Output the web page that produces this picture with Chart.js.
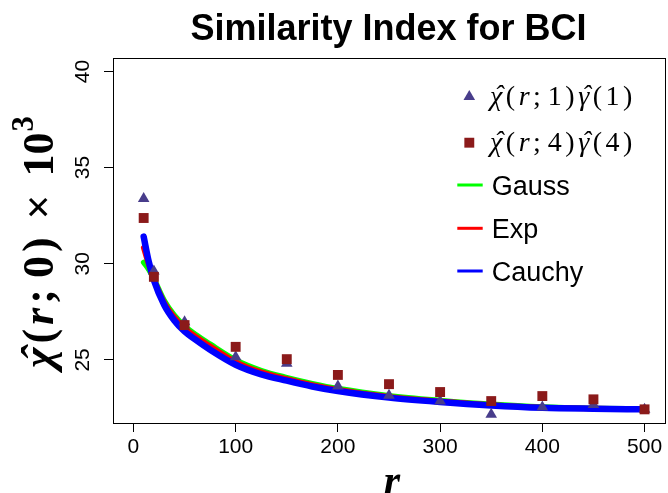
<!DOCTYPE html>
<html><head><meta charset="utf-8">
<script src="https://cdn.jsdelivr.net/npm/chart.js@4/dist/chart.umd.min.js"></script>
<style>
html,body{margin:0;padding:0;overflow:hidden;background:#fff;width:668px;height:493px}
#wrap{width:668px;height:493px;overflow:hidden;position:relative}
canvas{display:block}
</style></head>
<body><div id="wrap"><canvas id="c" width="672" height="493"></canvas></div>
<script>
// ---- data ----
const chartTitle = 'Similarity Index for BCI';
const pointR = [10, 20, 50, 100, 150, 200, 250, 300, 350, 400, 450, 500];
const chiGamma1 = [33.39, 29.62, 26.98, 25.16, 24.82, 23.63, 23.15, 22.86, 22.17, 22.54, 22.68, 22.43];
const chiGamma4 = [32.38, 29.32, 26.81, 25.68, 25.04, 24.22, 23.74, 23.33, 22.86, 23.12, 22.95, 22.43];
const curveR = [10, 15, 20, 30, 40, 50, 60, 75, 100, 125, 150, 175, 200, 250, 300, 350, 400, 450, 500];
const gaussFit  = [30.07, 29.70, 29.22, 28.10, 27.32, 26.76, 26.35, 25.82, 25.00, 24.45, 24.08, 23.77, 23.51, 23.14, 22.89, 22.69, 22.55, 22.48, 22.45];
const expFit    = [30.83, 29.95, 29.20, 28.00, 27.22, 26.66, 26.25, 25.72, 24.90, 24.36, 24.01, 23.70, 23.45, 23.09, 22.85, 22.66, 22.53, 22.47, 22.44];
const cauchyFit = [31.41, 30.10, 29.15, 27.87, 27.05, 26.48, 26.08, 25.53, 24.75, 24.25, 23.92, 23.62, 23.38, 23.04, 22.81, 22.63, 22.51, 22.46, 22.43];
const xTicks = [0, 100, 200, 300, 400, 500];
const yTicks = [25, 30, 35, 40];
const lineLabels = ['Gauss', 'Exp', 'Cauchy'];

const SERIF = 'Liberation Serif';
const SANS = 'Liberation Sans';
const COL_TRI = '#483D8B', COL_SQ = '#8B1A1A';
const COL_G = '#00FF00', COL_E = '#FF0000', COL_C = '#0000FF';

const pts = (xs, ys) => xs.map((x, i) => ({x, y: ys[i]}));

function drawSegs(ctx, segs, size, gap) {
  let x = 0;
  ctx.textAlign = 'left';
  for (const s of segs) {
    const sz = size * (s.scale || 1);
    ctx.font = (s.italic ? 'italic ' : '') + (s.bold ? 'bold ' : '') + sz + 'px "' + SERIF + '"';
    const y = -(s.rise || 0) * size;
    ctx.fillText(s.t, x, y);
    const w = ctx.measureText(s.t).width;
    if (s.hat) {
      ctx.textAlign = 'center';
      ctx.fillText('\u02C6', x + w / 2 + (s.italic ? 0.1 * sz : 0), y - 0.03 * sz);
      ctx.textAlign = 'left';
    }
    x += w + (s.gap !== undefined ? s.gap : gap);
  }
  return x;
}
function mathLabel(n) {
  return [
    {t: 'χ', italic: true, hat: true}, {t: '('}, {t: 'r', italic: true}, {t: ';', gap: 7},
    {t: String(n)}, {t: ')'}, {t: 'γ', italic: true, hat: true}, {t: '('}, {t: String(n)}, {t: ')'}
  ];
}

const decor = {
  id: 'decor',
  afterDraw(chart) {
    const ctx = chart.ctx, a = chart.chartArea;
    ctx.save();
    // box
    ctx.strokeStyle = '#000'; ctx.lineWidth = 1;
    ctx.strokeRect(Math.round(a.left) + 0.5, Math.round(a.top) + 0.5, Math.round(a.right - a.left), Math.round(a.bottom - a.top));
    // title
    ctx.fillStyle = '#000';
    ctx.font = 'bold 36px "' + SANS + '"';
    ctx.textAlign = 'center'; ctx.textBaseline = 'alphabetic';
    ctx.fillText(chartTitle, 388.5, 40);
    // x title
    ctx.font = 'italic bold 42px "' + SERIF + '"';
    ctx.fillText('r', 392, 494);
    // y title (rotated)
    ctx.save();
    ctx.translate(53, 368);
    ctx.rotate(-Math.PI / 2);
    drawSegs(ctx, [
      {t: 'χ', italic: true, bold: true, hat: true}, {t: '(', bold: true}, {t: 'r', italic: true, bold: true},
      {t: ';', bold: true, gap: 11}, {t: '0', bold: true}, {t: ')', bold: true, gap: 18},
      {t: '×', bold: true, gap: 18}, {t: '10', bold: true, gap: 1}, {t: '3', bold: true, scale: 0.7, rise: 0.45}
    ], 44, 4);
    ctx.restore();
    // legend
    const lx = 469.3;
    ctx.fillStyle = COL_TRI;
    Chart.helpers.drawPoint(ctx, {pointStyle: 'triangle', radius: 6.7, rotation: 0, borderWidth: 0}, lx, 96.7);
    ctx.fillStyle = COL_SQ;
    Chart.helpers.drawPoint(ctx, {pointStyle: 'rect', radius: 7, rotation: 0, borderWidth: 0}, lx, 142.7);
    ctx.fillStyle = '#000';
    ctx.save(); ctx.translate(490, 105); drawSegs(ctx, mathLabel(1), 28, 3.5); ctx.restore();
    ctx.save(); ctx.translate(490, 151); drawSegs(ctx, mathLabel(4), 28, 3.5); ctx.restore();
    const ly = [185, 228.3, 271], lc = [COL_G, COL_E, COL_C];
    ctx.font = '27px "' + SANS + '"';
    ctx.textAlign = 'left';
    ctx.lineWidth = 3;
    for (let i = 0; i < 3; i++) {
      ctx.strokeStyle = lc[i];
      ctx.beginPath(); ctx.moveTo(457.3, ly[i]); ctx.lineTo(482.7, ly[i]); ctx.stroke();
      ctx.fillStyle = '#000';
      ctx.fillText(lineLabels[i], 491.7, ly[i] + 10);
    }
    ctx.restore();
  }
};

const lineDs = (label, ys, color, w, order) => ({
  label, data: pts(curveR, ys), showLine: true, pointRadius: 0, pointHoverRadius: 0,
  borderColor: color, backgroundColor: color, borderWidth: w, cubicInterpolationMode: 'monotone',
  borderCapStyle: 'round', borderJoinStyle: 'round', order
});

new Chart(document.getElementById('c'), {
  type: 'scatter',
  data: {
    datasets: [
      {label: 'chi4', data: pts(pointR, chiGamma4), pointStyle: 'rect', pointRadius: 7, pointHoverRadius: 7,
       backgroundColor: COL_SQ, borderWidth: 0, order: 1},
      {label: 'chi1', data: pts(pointR, chiGamma1), pointStyle: 'triangle', pointRadius: 6.7, pointHoverRadius: 6.7,
       backgroundColor: COL_TRI, borderWidth: 0, order: 2},
      lineDs('Cauchy', cauchyFit, COL_C, 6.5, 3),
      lineDs('Exp', expFit, COL_E, 5.5, 4),
      lineDs('Gauss', gaussFit, COL_G, 5.5, 5)
    ]
  },
  options: {
    responsive: false, animation: false, devicePixelRatio: 1,
    events: [],
    layout: {padding: {top: 58, left: 0, right: 1, bottom: 0}},
    plugins: {legend: {display: false}, tooltip: {enabled: false}, title: {display: false}},
    scales: {
      x: {
        type: 'linear', min: -20, max: 520,
        afterBuildTicks: s => { s.ticks = xTicks.map(v => ({value: v})); },
        afterFit: s => { s.height = 70; },
        grid: {drawOnChartArea: false, drawTicks: true, tickLength: 9, color: '#000', lineWidth: 1},
        border: {display: false},
        ticks: {font: {family: SANS, size: 21}, color: '#000', padding: 3, maxRotation: 0, minRotation: 0, autoSkip: false}
      },
      y: {
        type: 'linear', min: 21.72, max: 40.70,
        afterBuildTicks: s => { s.ticks = yTicks.map(v => ({value: v})); },
        afterFit: s => { s.width = 113; },
        grid: {drawOnChartArea: false, drawTicks: true, tickLength: 9, color: '#000', lineWidth: 1},
        border: {display: false},
        ticks: {font: {family: SANS, size: 21}, color: '#000', padding: 9, minRotation: 90, maxRotation: 90, crossAlign: 'center', autoSkip: false}
      }
    }
  },
  plugins: [decor]
});
</script>
</body></html>
